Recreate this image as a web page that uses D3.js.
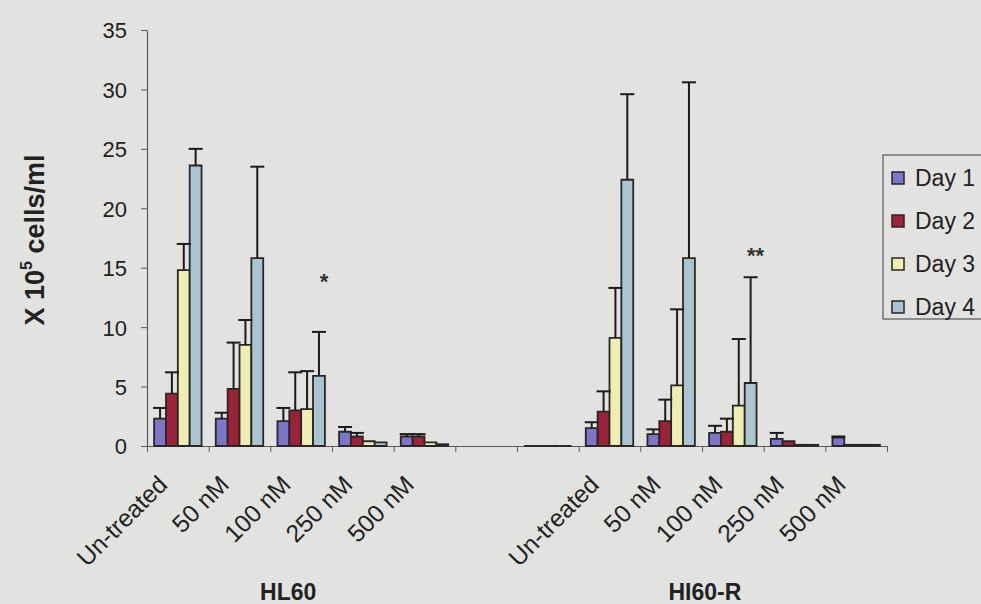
<!DOCTYPE html>
<html>
<head>
<meta charset="utf-8">
<script src="https://cdn.jsdelivr.net/npm/d3@7"></script>
<style>
  html, body { margin: 0; padding: 0; background: #e2e2e0; }
  svg { display: block; }
</style>
</head>
<body>
<script>
// Cell counts (x 10^5 cells/ml) over four days, two cell lines, five doses each.
// Category 6 is an empty spacer; category 7 holds zero-height placeholders.
const categories = ["Un-treated", "50 nM", "100 nM", "250 nM", "500 nM", "",
                    "", "Un-treated", "50 nM", "100 nM", "250 nM", "500 nM"];
const groupLabels = ["HL60", "HI60-R"];
const days = ["Day 1", "Day 2", "Day 3", "Day 4"];

const day1 = [2.3, 2.3, 2.1, 1.2, 0.8, null, 0, 1.5, 1.0, 1.1, 0.6, 0.7];
const day2 = [4.4, 4.8, 3.0, 0.8, 0.8, null, 0, 2.9, 2.1, 1.2, 0.4, 0.1];
const day3 = [14.8, 8.5, 3.1, 0.4, 0.3, null, 0, 9.1, 5.1, 3.4, 0.1, 0.1];
const day4 = [23.6, 15.8, 5.9, 0.3, 0.15, null, 0, 22.4, 15.8, 5.3, 0.1, 0.1];

// Upper error (SD) for each bar
const day1Err = [0.9, 0.5, 1.1, 0.4, 0.2, null, 0, 0.5, 0.4, 0.6, 0.5, 0.1];
const day2Err = [1.8, 3.9, 3.2, 0.3, 0.2, null, 0, 1.7, 1.8, 1.1, 0, 0];
const day3Err = [2.2, 2.1, 3.2, 0, 0, null, 0, 4.2, 6.4, 5.6, 0, 0];
const day4Err = [1.4, 7.7, 3.7, 0, 0, null, 0, 7.2, 14.8, 8.9, 0, 0];

const yTicks = [0, 5, 10, 15, 20, 25, 30, 35];

// Significance markers: [category index, day index, height in axis units, text]
const markers = [[2, 3, 14.2, "*"], [9, 3, 16.4, "**"]];

const series = [day1, day2, day3, day4];
const errors = [day1Err, day2Err, day3Err, day4Err];
const colors = ["#7b76c8", "#9a2239", "#efeeb2", "#a8c5d1"];

const W = 981, H = 604;
const svg = d3.select("body").append("svg").attr("width", W).attr("height", H);

svg.append("rect").attr("width", W).attr("height", H).attr("fill", "#e2e2e0");

const plotLeft = 147, plotRight = 887, plotTop = 30, plotBottom = 446;

const y = d3.scaleLinear().domain([0, 35]).range([plotBottom, plotTop]);
const x = d3.scaleBand().domain(d3.range(categories.length)).range([plotLeft, plotRight]);
const xEdge = d3.scaleLinear().domain([0, categories.length]).range([plotLeft, plotRight]);
const xi = d3.scaleBand().domain(d3.range(days.length)).range([0, x.bandwidth()])
  .paddingInner(0).paddingOuter(0.6);

const font = "'Liberation Sans', Arial, sans-serif";
const inkAxis = "#5a5a5a";
const ink = "#222";

// Y axis
const yAxis = svg.append("g").attr("transform", `translate(${plotLeft},0)`)
  .call(d3.axisLeft(y).tickValues(yTicks).tickSize(6).tickPadding(14).tickSizeOuter(0));
yAxis.select(".domain").attr("stroke", inkAxis).attr("stroke-width", 1.2);
yAxis.selectAll(".tick line").attr("stroke", inkAxis);
yAxis.selectAll(".tick text").attr("font-family", font).attr("font-size", 22)
  .attr("fill", ink).attr("dy", "0.36em");

// X axis: ticks at category boundaries
const xAxis = svg.append("g").attr("transform", `translate(0,${plotBottom})`)
  .call(d3.axisBottom(xEdge).tickValues(d3.range(categories.length + 1))
    .tickSize(6).tickFormat("").tickSizeOuter(0));
xAxis.select(".domain").attr("stroke", inkAxis).attr("stroke-width", 1.2);
xAxis.selectAll(".tick line").attr("stroke", inkAxis);

// Bars (drawn as paths so zero-height bars still show their outline)
const barG = svg.append("g");
series.forEach((vals, d) => {
  vals.forEach((v, c) => {
    if (v === null) return;
    const x0 = x(c) + xi(d), w = xi.bandwidth();
    const y0 = y(0), y1 = y(v);
    barG.append("path")
      .attr("d", `M${x0},${y0}V${y1}H${x0 + w}V${y0}Z`)
      .attr("fill", colors[d])
      .attr("stroke", "#2b2626")
      .attr("stroke-width", 1.8)
      .attr("stroke-linejoin", "miter");
  });
});

// Error bars (upper only)
const errG = svg.append("g").attr("stroke", "#1e1a1a").attr("stroke-width", 2);
series.forEach((vals, d) => {
  vals.forEach((v, c) => {
    const e = errors[d][c];
    if (v === null || !e) return;
    const cx = x(c) + xi(d) + xi.bandwidth() / 2;
    errG.append("line").attr("x1", cx).attr("x2", cx).attr("y1", y(v)).attr("y2", y(v + e));
    errG.append("line").attr("x1", cx - 7).attr("x2", cx + 7).attr("y1", y(v + e)).attr("y2", y(v + e));
  });
});

// Significance markers
markers.forEach(([c, d, h, t]) => {
  const cx = x(c) + xi(d) + xi.bandwidth() / 2 + 5;
  svg.append("text").attr("x", cx).attr("y", y(h) + 12)
    .attr("text-anchor", "middle").attr("font-family", font)
    .attr("font-size", 22).attr("font-weight", "bold").attr("fill", "#333").text(t);
});

// Category labels, rotated
categories.forEach((label, c) => {
  if (!label) return;
  const ax = x(c) + x.bandwidth() / 2 - 9, ay = plotBottom + 40;
  svg.append("text").attr("transform", `translate(${ax},${ay}) rotate(-45)`)
    .attr("text-anchor", "end").attr("font-family", font).attr("font-size", 24.5)
    .attr("fill", ink).text(label);
});

// Group labels
const groupCenters = [[0, 4], [7, 11]].map(([a, b]) => (x(a) + x(b) + x.bandwidth()) / 2);
const groupShift = [-13, -28];
groupLabels.forEach((g, i) => {
  svg.append("text").attr("x", groupCenters[i] + groupShift[i]).attr("y", 600)
    .attr("text-anchor", "middle").attr("font-family", font).attr("font-size", 23)
    .attr("font-weight", "bold").attr("fill", ink).text(g);
});

// Y axis title
const yt = svg.append("text").attr("transform", `translate(44,${(plotTop + plotBottom) / 2 + 2}) rotate(-90)`)
  .attr("text-anchor", "middle").attr("font-family", font).attr("font-size", 27)
  .attr("font-weight", "bold").attr("fill", ink);
yt.append("tspan").text("X 10");
yt.append("tspan").attr("font-size", 16).attr("dy", -12).text("5");
yt.append("tspan").attr("dy", 12).text(" cells/ml");

// Legend
const lg = svg.append("g").attr("transform", "translate(883,155)");
lg.append("rect").attr("x", 0).attr("y", 0).attr("width", 140).attr("height", 164)
  .attr("fill", "none").attr("stroke", "#555").attr("stroke-width", 1.2);
days.forEach((d, i) => {
  const cy = 23 + i * 43;
  lg.append("rect").attr("x", 9).attr("y", cy - 6).attr("width", 12).attr("height", 12)
    .attr("fill", colors[i]).attr("stroke", "#2b2626").attr("stroke-width", 1.5);
  lg.append("text").attr("x", 32).attr("y", cy + 8).attr("font-family", font)
    .attr("font-size", 23).attr("fill", ink).text(d);
});
</script>
</body>
</html>
